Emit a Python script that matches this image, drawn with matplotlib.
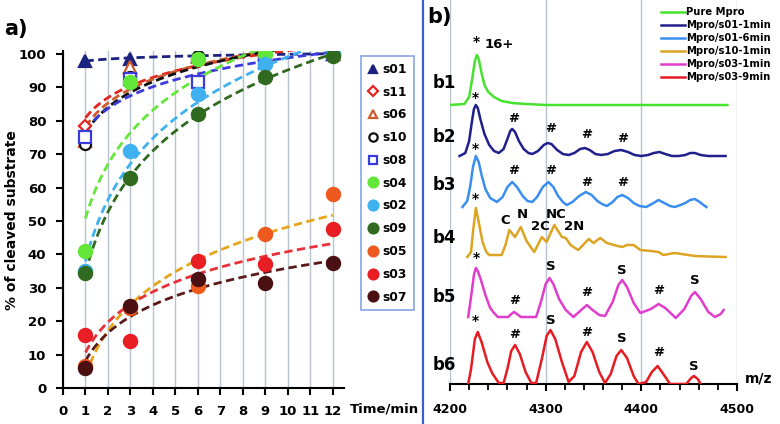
import numpy as np
import matplotlib
matplotlib.use("Agg")
import matplotlib.pyplot as plt

plt.rcParams['font.family'] = ['DejaVu Sans']
plt.rcParams['font.weight'] = 'bold'

# ---------- panel a) : % of cleaved substrate vs time ----------
times = [1, 3, 6, 9, 12]
s01 = [98, 98.5, 99.5, 100, 100]
s11 = [78.5, 94, 98, 100, 100]
s06 = [74, 96, 99, 100, 100]
s10 = [73, 93, 99.5, 100, 100]
s08 = [75, 92.5, 91.5, 98, 100]
s04 = [41, 91.5, 98.5, 100, 100]
s02 = [35, 71, 88, 97, 100]
s09 = [34.5, 63, 82, 93, 99.5]
s05 = [6.5, 24, 30.5, 46, 58]
s03 = [16, 14, 38, 37, 47.5]
s07 = [6, 24.5, 32.5, 31.5, 37.5]

series_names = ["s01", "s11", "s06", "s10", "s08", "s04", "s02", "s09", "s05", "s03", "s07"]
series_vals = [s01, s11, s06, s10, s08, s04, s02, s09, s05, s03, s07]

# marker, point colour, filled?, trendline colour
styles = {
    "s01": ("^", "#1c2280", True, "#1c2280"),
    "s11": ("D", "#e3241f", False, "#e3241f"),
    "s06": ("^", "#cf5a2c", False, "#cf5a2c"),
    "s10": ("o", "#111111", False, "#111111"),
    "s08": ("s", "#3b3bdc", False, "#3b3bdc"),
    "s04": ("o", "#62e63a", True, "#62e63a"),
    "s02": ("o", "#3fb0f0", True, "#3fb0f0"),
    "s09": ("o", "#2f6a20", True, "#2f6a20"),
    "s05": ("o", "#ee5a1e", True, "#e6a51c"),
    "s03": ("o", "#e91e25", True, "#e8303a"),
    "s07": ("o", "#4a1012", True, "#5a1a1a"),
}

# ---------- panel b) : mass spectra ----------
b1_mz = [4200, 4215, 4220, 4223, 4226, 4228, 4230, 4233, 4236, 4240, 4246, 4254, 4265, 4280, 4300, 4490]
b1_int = [0, 1, 8, 25, 44, 50, 46, 32, 20, 13, 8, 4, 2, 1, 0, 0]

b2_mz = [4210, 4216, 4220, 4223, 4225, 4227, 4229, 4232, 4236, 4241, 4246, 4251, 4256, 4260, 4263, 4265,
         4268, 4272, 4277, 4282, 4286, 4292, 4298, 4302, 4306, 4312, 4318, 4324, 4330, 4336, 4341, 4346,
         4352, 4358, 4365, 4372, 4379, 4386, 4393, 4400, 4407, 4413, 4419, 4425, 4432, 4439, 4446, 4451,
         4456, 4462, 4470, 4488]
b2_int = [0, 3, 15, 35, 47, 51, 48, 36, 22, 11, 5, 3, 7, 17, 25, 27,
          24, 15, 7, 3, 2, 5, 11, 13, 12, 6, 2, 1, 3, 7, 8, 6,
          2, 1, 2, 5, 6, 4, 1, 0, 1, 3, 4, 2, 0, 0, 1, 3,
          3, 1, 0, 0]

b3_mz = [4213, 4218, 4221, 4224, 4227, 4230, 4233, 4237, 4242, 4249, 4255, 4260, 4265, 4270, 4276, 4281,
         4286, 4291, 4297, 4303, 4308, 4313, 4318, 4322, 4328, 4335, 4342, 4348, 4354, 4359, 4364, 4370,
         4375, 4380, 4386, 4392, 4398, 4405, 4411, 4418, 4424, 4430, 4435, 4441, 4446, 4451, 4456, 4461,
         4465, 4468]
b3_int = [0, 6, 20, 40, 51, 45, 32, 18, 9, 5, 10, 20, 25, 20, 11, 6,
          5, 10, 20, 25, 20, 11, 5, 2, 5, 11, 15, 12, 6, 3, 1, 5,
          10, 12, 9, 4, 1, 0, 3, 7, 4, 1, 0, 2, 4, 7, 8, 5,
          2, 0]

b4_mz = [4218, 4222, 4224, 4227, 4230, 4234, 4238, 4241, 4254, 4258, 4262, 4268, 4274, 4280, 4288, 4296,
         4301, 4309, 4317, 4321, 4326, 4334, 4345, 4350, 4357, 4364, 4375, 4380, 4385, 4392, 4399, 4410,
         4418, 4423, 4435, 4442, 4456, 4470, 4488]
b4_int = [0, 5, 25, 49, 35, 15, 5, 2, 2, 12, 27, 20, 30, 16, 5, 20,
          15, 32, 20, 19, 12, 7, 18, 14, 19, 14, 11, 10, 12, 12, 7, 6,
          5, 2, 4, 3, 1, 0.5, 0]

b5_mz = [4219, 4222, 4225, 4227, 4229, 4232, 4237, 4242, 4246, 4250, 4261, 4264, 4267, 4270, 4274, 4290,
         4295, 4300, 4304, 4308, 4314, 4321, 4329, 4336, 4343, 4349, 4356, 4362, 4370, 4376, 4380, 4385,
         4392, 4399, 4410, 4418, 4425, 4436, 4445, 4452, 4456, 4462, 4470, 4477, 4483, 4486]
b5_int = [0, 20, 42, 49, 46, 38, 22, 9, 4, 0, 0, 3, 5, 3, 0, 0,
          15, 33, 39, 33, 18, 7, 0, 6, 12, 7, 2, 1, 15, 32, 37, 30,
          14, 4, 8, 13, 9, -1, 8, 21, 25, 18, 5, 0, 3, 7]

b6_mz = [4219, 4222, 4226, 4229, 4233, 4239, 4244, 4251, 4256, 4260, 4264, 4268, 4273, 4279, 4285, 4290,
         4296, 4301, 4305, 4310, 4317, 4324, 4330, 4337, 4343, 4349, 4356, 4362, 4368, 4374, 4379, 4385,
         4392, 4397, 4405, 4411, 4417, 4423, 4430, 4447, 4452, 4455, 4459, 4462]
b6_int = [0, 15, 45, 52, 42, 22, 11, 1, 1, 15, 33, 39, 30, 12, 1, 1,
          25, 48, 54, 45, 22, 2, 8, 32, 42, 32, 12, 1, 10, 28, 34, 26,
          8, 0, 2, 12, 18, 10, 0, 0, 6, 8, 5, 0]

trace_labels = ["Pure Mpro", "Mpro/s01-1min", "Mpro/s01-6min", "Mpro/s10-1min", "Mpro/s03-1min", "Mpro/s03-9min"]
trace_mz = [b1_mz, b2_mz, b3_mz, b4_mz, b5_mz, b6_mz]
trace_int = [b1_int, b2_int, b3_int, b4_int, b5_int, b6_int]
trace_offset = [279, 228, 177, 127, 67, 0]
trace_colors = ["#46e22e", "#20208c", "#3a8ef2", "#dca422", "#e23ccc", "#e61c22"]

# peak annotations: m/z, height (px above the axis), text
ann_mz = [4228, 4251, 4227, 4266, 4305, 4343, 4380,
          4227, 4266, 4305, 4343, 4380,
          4227, 4258, 4276, 4294, 4311, 4330,
          4228, 4268, 4305, 4343, 4380, 4418, 4456,
          4227, 4268, 4305, 4343, 4380, 4418, 4455]
ann_y = [342, 339, 286, 266, 256, 249, 246,
         235, 214, 214, 202, 202,
         185, 163, 169, 157, 170, 157,
         126, 83, 117, 91, 113, 94, 104,
         63, 50, 63, 52, 45, 32, 17]
ann_txt = ["*", "16+", "*", "#", "#", "#", "#",
           "*", "#", "#", "#", "#",
           "*", "C", "N", "2C", "NC", "2N",
           "*", "#", "S", "#", "S", "#", "S",
           "*", "#", "S", "#", "S", "#", "S"]

fig = plt.figure(figsize=(7.8, 4.24), dpi=100)

# ---------------- panel a ----------------
ax = fig.add_axes([63 / 780, 1 - 388 / 424, (344 - 63) / 780, (388 - 50.6) / 424])
t = np.array(times, dtype=float)
tt = np.linspace(1, 12, 200)
for name, vals in zip(series_names, series_vals):
    mk, col, filled, lcol = styles[name]
    a, b = np.polyfit(np.log(t), np.array(vals, dtype=float), 1)
    ax.plot(tt, a * np.log(tt) + b, ls=(0, (3, 1.6)), color=lcol, lw=2, zorder=2)
for name, vals in zip(series_names, series_vals):
    mk, col, filled, lcol = styles[name]
    ms = 9.5 if mk == "o" and filled else 8
    if mk == "D":
        ms = 6.5
    ax.plot(times, vals, ls="none", marker=mk, ms=ms,
            mfc=col if filled else "white", mec=col, mew=1.6, label=name, zorder=3)

ax.set_xlim(0, 12.5)
ax.set_ylim(0, 101)
ax.set_xticks(range(0, 13))
ax.set_yticks(range(0, 101, 10))
ax.grid(axis="x", color="#b7c3cf", lw=1)
ax.set_axisbelow(True)
for s in ["top", "right"]:
    ax.spines[s].set_visible(False)
for s in ["left", "bottom"]:
    ax.spines[s].set_linewidth(1.5)
ax.tick_params(direction="out", length=5, width=1.5, labelsize=9.5, pad=7)
for lab in ax.get_xticklabels() + ax.get_yticklabels():
    lab.set_fontweight("bold")

leg = ax.legend(loc="upper left", bbox_to_anchor=(355 / 780, 1 - 50 / 424),
                bbox_transform=fig.transFigure, frameon=True, fancybox=False,
                numpoints=1, handlelength=0.8, handletextpad=0.4, markerscale=0.75,
                labelspacing=0.8, borderpad=0.55, prop={"weight": "bold", "size": 8.8})
leg.get_frame().set_edgecolor("#6a8ee0")
leg.get_frame().set_linewidth(1.2)

fig.text(12 / 780, 1 - 220 / 424, "% of cleaved substrate", rotation=90,
         ha="center", va="center", fontsize=10, fontweight="bold")
fig.text(350 / 780, 1 - 409 / 424, "Time/min", ha="left", va="center",
         fontsize=9.5, fontweight="bold")
fig.text(4 / 780, 1 - 29 / 424, "a)", ha="left", va="center", fontsize=15, fontweight="bold")

# divider
fig.add_artist(plt.Line2D([423 / 780, 423 / 780], [0, 1], color="#3a5fcd", lw=1.6,
                          transform=fig.transFigure))

# ---------------- panel b ----------------
bx = fig.add_axes([450 / 780, 1 - 384 / 424, (737 - 450) / 780, 384 / 424])
for lab, mz, inten, off, col in zip(trace_labels, trace_mz, trace_int, trace_offset, trace_colors):
    bx.plot(mz, np.array(inten) + off, color=col, lw=1.8, label=lab, zorder=3,
            solid_joinstyle="round")

bx.set_xlim(4200, 4500)
bx.set_ylim(0, 384)
bx.set_xticks([4200, 4300, 4400, 4500])
bx.set_xticks(range(4200, 4501, 20), minor=True)
bx.set_yticks([])
bx.grid(axis="x", which="major", color="#b7c3cf", lw=1)
bx.set_axisbelow(True)
for s in ["top", "right", "left"]:
    bx.spines[s].set_visible(False)
bx.spines["bottom"].set_linewidth(1.5)
bx.tick_params(axis="x", which="major", direction="out", length=5, width=1.5,
               labelsize=9, pad=9)
bx.tick_params(axis="x", which="minor", direction="out", length=4, width=1.3)
for lab in bx.get_xticklabels():
    lab.set_fontweight("bold")

for mz, y, txt in zip(ann_mz, ann_y, ann_txt):
    bx.text(mz, y, txt, ha="center", va="center", fontsize=9.5 if txt != "*" else 10,
            fontweight="bold", zorder=4)

b_label_y = [301, 247, 199, 146, 87, 19]
for i, y in enumerate(b_label_y):
    bx.text(4194, y, "b%d" % (i + 1), ha="center", va="center", fontsize=12,
            fontweight="bold", clip_on=False)

fig.text(745 / 780, 1 - 378 / 424, "m/z", ha="left", va="center", fontsize=10, fontweight="bold")
fig.text(427 / 780, 1 - 17 / 424, "b)", ha="left", va="center", fontsize=15, fontweight="bold")

fig.legend(*bx.get_legend_handles_labels(), loc="upper left",
           bbox_to_anchor=(654 / 780, 1.0), frameon=False, handlelength=2.4,
           handletextpad=0.15, labelspacing=0.3, borderpad=0.2,
           prop={"weight": "bold", "size": 7.2})

fig.savefig("out.png", dpi=100)
